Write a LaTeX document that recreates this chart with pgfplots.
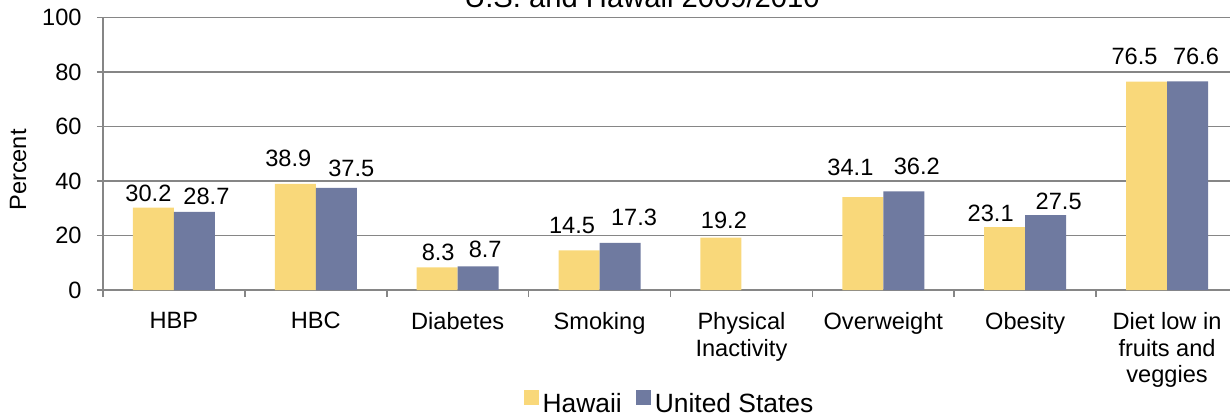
\documentclass[border=0pt]{standalone}
\usepackage{pgfplots}
\usepackage{pgfplotstable}
\pgfplotsset{compat=1.18}
\usepackage{fontspec}
\setmainfont{Liberation Sans}
\definecolor{hawaii}{RGB}{249,216,122}
\definecolor{usa}{RGB}{111,122,160}
\definecolor{gridgray}{RGB}{134,134,134}
% dx, dy: label offsets (pt) as placed in the original chart
\pgfplotstableread{
x y dx dy
0 30.2 -2.5 3.0
1 38.9 -3.5 8.6
2 8.3 0.5 3.3
3 14.5 -3.5 8.7
4 19.2 1.5 4.8
5 34.1 -6.2 11.0
6 23.1 -7.0 3.0
7 76.5 -6.0 8.7
}\hawaiidata
\pgfplotstableread{
x y dx dy
0 28.7 6.0 3.4
1 37.5 7.5 5.9
2 8.7 3.5 4.6
3 17.3 7.0 8.9
5 36.2 6.5 8.2
6 27.5 6.5 3.0
7 76.6 4.2 8.6
}\usdata
\begin{document}
\begin{tikzpicture}
\begin{axis}[
  name=ax,
  scale only axis,
  width=567.5pt, height=136.25pt,
  xmin=-0.5, xmax=7.5, ymin=0, ymax=100,
  ybar=0pt, bar width=0.289,
  ytick={0,20,...,100},
  xtick={0,...,7},
  xticklabels={HBP,HBC,Diabetes,Smoking,Physical\\Inactivity,Overweight,Obesity,Diet low in\\fruits and\\veggies},
  minor xtick={-0.5,0.5,...,7.5},
  axis x line*=bottom, axis y line*=left,
  axis line style={gridgray, line width=0.8pt, -},
  ymajorgrids, major grid style={gridgray, line width=0.8pt},
  tick style={gridgray, line width=0.8pt},
  major x tick style={draw=none},
  tick align=outside,
  major tick length=3pt, minor tick length=3.5pt,
  /pgf/number format/assume math mode=true,
  yticklabel style={font=\fontsize{11.8}{13.25}\selectfont, inner sep=0pt, anchor=east, xshift=-7.5pt},
  xticklabel style={font=\fontsize{11.8}{13.25}\selectfont, inner sep=0pt, anchor=north, yshift=-8pt, align=center},
  nodes near coords,
  point meta=explicit symbolic,
  visualization depends on={\thisrow{dx} \as \labdx},
  visualization depends on={\thisrow{dy} \as \labdy},
  every node near coord/.append style={font=\fontsize{11.8}{13.25}\selectfont, anchor=base, inner sep=0pt,
     xshift=\labdx pt, yshift=\labdy pt, text=black},
  legend style={at={(0.5,-0.478)}, anchor=south, draw=none, legend columns=2, inner sep=0pt,
    font=\fontsize{13.2}{15}\selectfont, /tikz/every even column/.append style={column sep=5pt}},
  legend image code/.code={\fill[#1] (0pt,0pt) rectangle (7.5pt,7.5pt);},
]
\addplot[fill=hawaii, draw=none] table[x=x, y=y, meta=y] {\hawaiidata};
\addplot[fill=usa, draw=none] table[x=x, y=y, meta=y] {\usdata};
\legend{Hawaii, United States}
\end{axis}
\node[anchor=base, font=\fontsize{14.6}{17}\selectfont] at ([xshift=269.5pt, yshift=4.75pt]ax.north west) {U.S. and Hawaii 2009/2010};
\node[rotate=90, font=\fontsize{11.8}{13.25}\selectfont] at ([xshift=-42.5pt, yshift=60pt]ax.south west) {Percent};
\pgfresetboundingbox
\path[use as bounding box] ([xshift=-51.5pt,yshift=-63.5pt]ax.south west) rectangle ([xshift=-4pt,yshift=8.75pt]ax.north east);
\end{tikzpicture}
\end{document}
